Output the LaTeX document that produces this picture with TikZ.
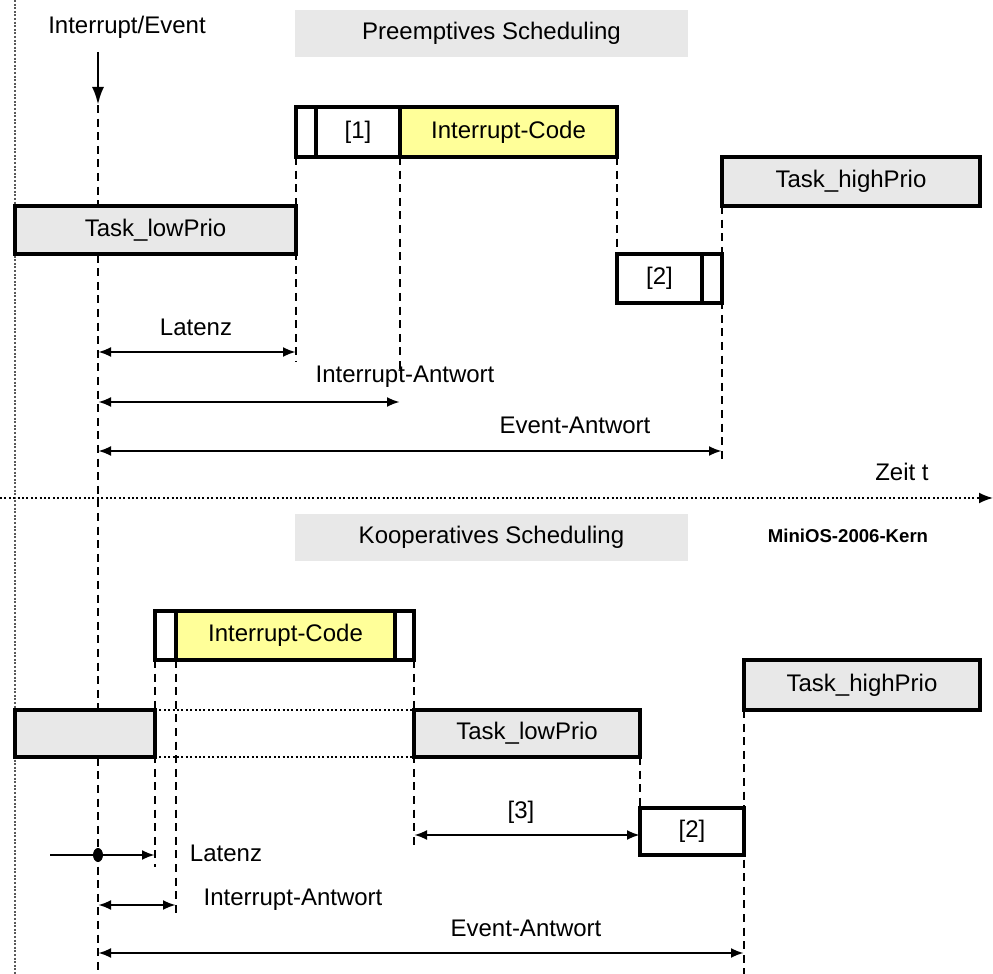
\documentclass[tikz,border=0pt]{standalone}
\usepackage{fontspec}
\setmainfont{Liberation Sans}
\usetikzlibrary{arrows.meta,fit,shapes.geometric}
\definecolor{taskgray}{HTML}{E8E8E8}
\definecolor{codeyellow}{HTML}{FFFF99}
\begin{document}
\begin{tikzpicture}[x=0.5pt,y=-0.5pt,
  every node/.style={font=\fontsize{12}{14}\selectfont},
  box/.style={draw, line width=1.8pt, inner sep=0pt, outer sep=0pt},
  taskbox/.style={box, fill=taskgray},
  codebox/.style={box, fill=codeyellow},
  blankbox/.style={box, fill=white},
  titlebox/.style={fill=taskgray, inner sep=0pt, outer sep=0pt},
  guide/.style={line width=1.4pt, dash pattern=on 4pt off 2.8pt},
  span/.style={line width=1.3pt, {Latex[length=6.5pt,width=5pt]}-{Latex[length=6.5pt,width=5pt]}},
  lab/.style={inner sep=0pt},
  fine/.style={line width=0.9pt, dash pattern=on 1pt off 1.2pt},
]
\useasboundingbox (0,0) rectangle (993,974);

% left margin line and time axis
\coordinate (mtop) at (15,0);
\coordinate (mbot) at (15,974);
\draw[gray!70!black, line width=1.3pt, dash pattern=on 1pt off 0.8pt] (mtop) -- (mbot);
\coordinate (axL) at (0,498);
\coordinate (axR) at (993,498);
\draw[fine, -{Latex[length=7pt,width=5.5pt]}] (axL) -- (axR);
\node[lab] (zeit) at (902,472) {Zeit t};

% ---------------- preemptive ----------------
\node[titlebox, fit={(295,10)(688,57)}] (title1) {};
\node[lab] at (title1.center) {Preemptives Scheduling};
\node[lab] (evlabel) at (127,27) {Interrupt/Event};
\coordinate (evstart) at (98,52);
\coordinate (evhit) at (98,105);
\coordinate (evbot) at (98,974);
\draw[line width=1.4pt, -{Latex[length=9pt,width=6pt]}] (evstart) -- (evhit);
\draw[guide] (evhit) -- (evbot);

\coordinate (gA1) at (296,362);
\coordinate (gA2) at (400,372);
\coordinate (gA3) at (722,460);

% guides first, boxes on top
\draw[guide] (296,157) -- (gA1);
\draw[guide] (400,157) -- (gA2);
\draw[guide] (617,157) -- (617,254);
\draw[guide] (722,206) -- (gA3);

\node[taskbox, fit={(15,206)(296,254)}] (lowA) {};
\node[lab] at (lowA.center) {Task\_lowPrio};
\node[blankbox, fit={(296,107)(316,157)}] (swA) {};
\node[blankbox, fit={(316,107)(400,157)}] (isrA) {};
\node[lab] at (isrA.center) {[1]};
\node[codebox, fit={(400,107)(617,157)}] (codeA) {};
\node[lab] at (codeA.center) {Interrupt-Code};
\node[blankbox, fit={(617,254)(702,303)}] (schedA) {};
\node[lab] at (schedA.center) {[2]};
\node[blankbox, fit={(702,254)(722,303)}] (swA2) {};
\node[taskbox, fit={(722,157)(980,206)}] (highA) {};
\node[lab] at (highA.center) {Task\_highPrio};

\coordinate (latA) at (98,352);
\coordinate (irA) at (98,402);
\coordinate (evA) at (98,451);
\draw[span] (latA) -- (latA -| swA.south west);
\draw[span] (irA) -- (irA -| isrA.south east);
\draw[span] (evA) -- (evA -| swA2.south east);
\node[lab] (latAl) at (196,327) {Latenz};
\node[lab] (irAl) at (405,377) {Interrupt-Antwort};
\node[lab] (evAl) at (575,425) {Event-Antwort};

% ---------------- cooperative ----------------
\node[titlebox, fit={(295,514)(688,561)}] (title2) {};
\node[lab] at (title2.center) {Kooperatives Scheduling};
\node[lab, font=\fontsize{9.3}{11}\selectfont\bfseries] (kern) at (848,536) {MiniOS-2006-Kern};

\coordinate (gB1) at (155,867);
\coordinate (gB2) at (176,918);
\coordinate (gB3) at (414,850);
\coordinate (gB4) at (744,974);
\draw[guide] (155,660) -- (gB1);
\draw[guide] (176,660) -- (gB2);
\draw[guide] (414,660) -- (gB3);
\draw[guide] (640,757) -- (640,808);
\draw[guide] (744,710) -- (gB4);

\node[taskbox, fit={(15,710)(155,757)}] (lowB0) {};
\node[taskbox, fit={(414,710)(640,757)}] (lowB) {};
\node[lab] at (lowB.center) {Task\_lowPrio};
\draw[fine] (lowB0.north east) -- (lowB.north west);
\draw[fine] (lowB0.south east) -- (lowB.south west);
\node[blankbox, fit={(155,611)(176,660)}] (swB1) {};
\node[codebox, fit={(176,611)(395,660)}] (codeB) {};
\node[lab] at (codeB.center) {Interrupt-Code};
\node[blankbox, fit={(395,611)(414,660)}] (swB2) {};
\node[taskbox, fit={(744,660)(980,710)}] (highB) {};
\node[lab] at (highB.center) {Task\_highPrio};
\node[blankbox, fit={(640,808)(744,855)}] (schedB) {};
\node[lab] at (schedB.center) {[2]};

\coordinate (w3) at (414,835);
\draw[span] (w3) -- (w3 -| schedB.west);
\node[lab] (l3) at (521,812) {[3]};

\coordinate (latBs) at (50,855);
\coordinate (latBe) at (155,855);
\draw[line width=1.3pt, -{Latex[length=6.5pt,width=5pt]}] (latBs) -- (latBe);
\node[fill, ellipse, inner sep=0pt, minimum width=5pt, minimum height=7pt] (dotB) at (98,855) {};
\node[lab] (latBl) at (226,853) {Latenz};

\coordinate (irB) at (98,905);
\draw[span] (irB) -- (irB -| codeB.south west);
\node[lab] (irBl) at (293,900) {Interrupt-Antwort};

\coordinate (evB) at (98,953);
\draw[span] (evB) -- (evB -| schedB.south east);
\node[lab] (evBl) at (526,928) {Event-Antwort};
\end{tikzpicture}
\end{document}
